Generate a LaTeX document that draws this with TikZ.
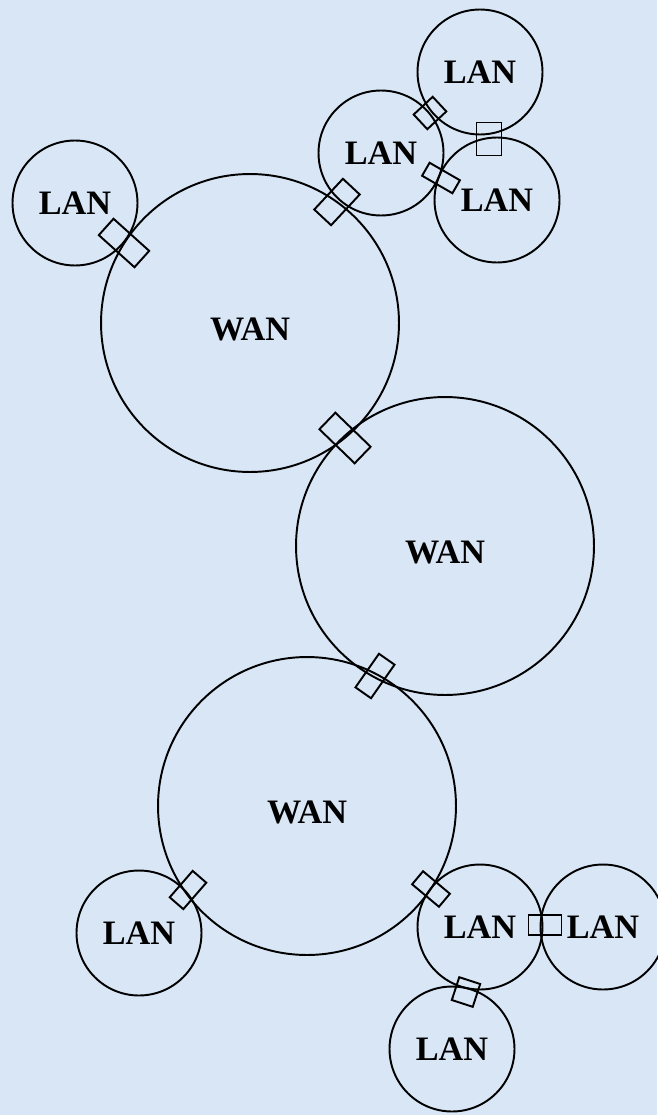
\documentclass[tikz,border=0pt]{standalone}
\usepackage{fontspec}
\setmainfont{Liberation Serif}
\usepackage{tikz}
\definecolor{skyback}{RGB}{216,230,246}

\begin{document}
\begin{tikzpicture}[x=0.02cm,y=-0.02cm,
		net/.style={circle,draw,line width=1.1pt,inner sep=0pt,font=\bfseries\fontsize{19.5}{21}\selectfont},
		wan/.style={net,minimum size=5.96cm,text height=20pt,text depth=0pt},
		lan/.style={net,minimum size=2.5cm},
		router/.style={rectangle,draw,line width=1.1pt,inner sep=0pt}]
	% background
	\fill[skyback] (0,0) rectangle (657,1115);
	\useasboundingbox (0,0) rectangle (657,1115);
	% WAN clouds
	\foreach \nm/\xx/\yy in {wanA/250/323,wanB/445/546,wanC/307/806}{
		\node[wan] (\nm) at (\xx,\yy) {WAN};
	}
	% LANs
	\foreach \nm/\xx/\yy in {lanA/75/203,lanB/381/153,lanC/480/72,lanD/497/200,
		lanE/139/933,lanF/480/927,lanG/603/927,lanH/452/1049}{
		\node[lan] (\nm) at (\xx,\yy) {LAN};
	}
	% routers
	\foreach \nm/\xx/\yy/\w/\h/\rot in {rtA/124/243/48/22/-42,rtB/337/202/42/23/47,
		rtC/430/113/26/20/43,rtD/489/139/25/33/0,rtE/441/178/35/15/-30,
		rtF/345/438/49/23/-44,rtG/375/676/41/19/55,rtH/188/890/35/18/49,
		rtI/431/889/35/17/-40,rtJ/545/925/33/20/0,rtK/466/992/22/24/-18}{
		\node[router,minimum width=\w*0.02cm,minimum height=\h*0.02cm,rotate=\rot] (\nm) at (\xx,\yy) {};
	}
\end{tikzpicture}
\end{document}
